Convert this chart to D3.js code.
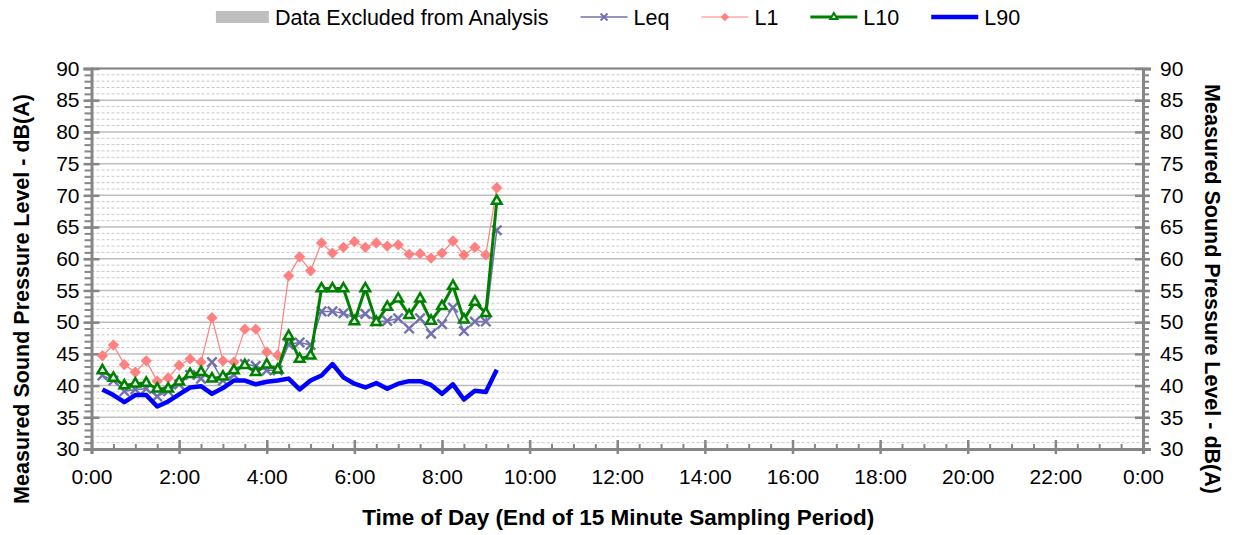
<!DOCTYPE html>
<html>
<head>
<meta charset="utf-8">
<script src="https://cdn.jsdelivr.net/npm/d3@7"></script>
<style>
  body { margin: 0; background: #fff; }
  svg text { font-family: "Liberation Sans", Arial, sans-serif; fill: #000; }
</style>
</head>
<body>
<svg id="chart" width="1237" height="535"></svg>
<script>
// ---- data (15 minute periods, end time) ----
const times = ['0:15','0:30','0:45','1:00','1:15','1:30','1:45','2:00','2:15','2:30','2:45','3:00',
  '3:15','3:30','3:45','4:00','4:15','4:30','4:45','5:00','5:15','5:30','5:45','6:00','6:15','6:30',
  '6:45','7:00','7:15','7:30','7:45','8:00','8:15','8:30','8:45','9:00','9:15'];

const leq = [41.6,40.8,39.1,39.4,39.5,38.3,39.1,40.2,41.7,41.1,43.7,40.8,41.7,43.4,43.1,42.4,42.4,46.5,46.8,46.4,
  51.7,51.7,51.4,50.7,51.3,50.1,50.2,50.6,49.0,50.6,48.2,49.7,52.3,48.6,50.1,50.1,64.5];
const l1 = [44.7,46.4,43.3,42.1,43.9,40.7,41.2,43.2,44.2,43.7,50.7,43.9,43.7,48.9,48.9,45.3,44.8,57.3,60.3,58.1,
  62.5,60.9,61.8,62.7,61.8,62.5,62.0,62.2,60.7,60.8,60.1,60.9,62.8,60.6,61.8,60.6,71.2];
const l10 = [42.4,41.2,40.0,40.3,40.4,39.5,39.5,40.6,41.8,42.1,41.1,41.4,42.4,43.2,42.1,43.3,42.5,47.8,44.2,44.7,
  55.3,55.3,55.3,50.1,55.3,50.0,52.4,53.7,51.1,53.7,50.2,52.5,55.7,50.4,53.2,51.4,69.1];
const l90 = [39.4,38.5,37.4,38.5,38.5,36.7,37.5,38.6,39.7,39.9,38.7,39.6,40.8,40.8,40.2,40.6,40.8,41.1,39.4,40.8,
  41.6,43.4,41.3,40.3,39.7,40.4,39.5,40.3,40.7,40.7,40.1,38.7,40.2,37.8,39.2,39.0,42.5];

const yTicks = d3.range(30, 91, 5);
const xTicks = d3.range(0, 25, 2);
const legendLabels = ['Data Excluded from Analysis', 'Leq', 'L1', 'L10', 'L90'];

// ---- layout ----
const svg = d3.select('#chart');
const mLeft = 91.5, mRight = 1143, mTop = 68.5, mBottom = 449;
const AXIS = '#868686';

const hours = times.map(t => { const [h, m] = t.split(':').map(Number); return h + m / 60; });

const x = d3.scaleLinear().domain([0, 24]).range([mLeft, mRight]);
const y = d3.scaleLinear().domain([30, 90]).range([mBottom, mTop]);

// gridlines (minor dashed every 1 dB, major every 5 dB)
const grid = svg.append('g');
grid.selectAll('.minor').data(d3.range(31, 90).filter(v => v % 5 !== 0)).enter().append('line')
  .attr('x1', mLeft).attr('x2', mRight)
  .attr('y1', d => y(d)).attr('y2', d => y(d))
  .attr('stroke', '#c8c8c8').attr('stroke-width', 1).attr('stroke-dasharray', '3,2');
grid.selectAll('.major').data(yTicks.filter(v => v > 30 && v < 90)).enter().append('line')
  .attr('x1', mLeft).attr('x2', mRight)
  .attr('y1', d => y(d)).attr('y2', d => y(d))
  .attr('stroke', '#bdbdbd').attr('stroke-width', 1.5);
grid.append('line').attr('x1', mLeft).attr('x2', mRight).attr('y1', y(90)).attr('y2', y(90))
  .attr('stroke', '#7f7f7f').attr('stroke-width', 2);

// axes
function styleAxis(g) {
  g.select('.domain').attr('stroke', AXIS).attr('stroke-width', 3);
  g.selectAll('.tick line').attr('stroke', AXIS).attr('stroke-width', 2.5);
  g.selectAll('.tick text').style('font-size', '21px');
}

// left minor ticks
svg.append('g').attr('transform', `translate(${mLeft},0)`)
  .call(d3.axisLeft(y).tickValues(d3.range(30, 91, 1)).tickSize(7).tickFormat(''))
  .call(g => { g.select('.domain').remove(); g.selectAll('.tick line').attr('stroke', AXIS).attr('stroke-width', 2); });
// left major ticks
svg.append('g').attr('transform', `translate(${mLeft},0)`)
  .call(d3.axisLeft(y).tickValues(yTicks).tickSizeOuter(0).tickSize(8).tickPadding(4))
  .call(styleAxis)
  .call(g => g.selectAll('.tick line').attr('x2', 8).attr('x1', -8));

// right minor ticks
svg.append('g').attr('transform', `translate(${mRight},0)`)
  .call(d3.axisRight(y).tickValues(d3.range(30, 91, 1)).tickSize(6).tickFormat(''))
  .call(g => { g.select('.domain').remove(); g.selectAll('.tick line').attr('stroke', AXIS).attr('stroke-width', 2); });
// right major ticks
svg.append('g').attr('transform', `translate(${mRight},0)`)
  .call(d3.axisRight(y).tickValues(yTicks).tickSizeOuter(0).tickSize(8).tickPadding(9))
  .call(styleAxis)
  .call(g => g.selectAll('.tick line').attr('x1', -8).attr('x2', 7));

// bottom minor ticks (30 min)
svg.append('g').attr('transform', `translate(0,${mBottom})`)
  .call(d3.axisBottom(x).tickValues(d3.range(0, 24.01, 0.5)).tickSize(-5).tickFormat(''))
  .call(g => { g.select('.domain').remove(); g.selectAll('.tick line').attr('stroke', AXIS).attr('stroke-width', 2); });
// bottom major ticks
svg.append('g').attr('transform', `translate(0,${mBottom})`)
  .call(d3.axisBottom(x).tickValues(xTicks).tickSizeOuter(0).tickSize(5).tickPadding(15)
    .tickFormat(d => `${d % 24}:00`))
  .call(styleAxis)
  .call(g => g.selectAll('.tick line').attr('y1', -9).attr('y2', 5));

// axis titles
svg.append('text')
  .attr('x', (mLeft + mRight) / 2 + 1).attr('y', 525)
  .attr('text-anchor', 'middle')
  .style('font-size', '22.5px').style('font-weight', 'bold')
  .text('Time of Day (End of 15 Minute Sampling Period)');
svg.append('text')
  .attr('transform', 'translate(29,299) rotate(-90)')
  .attr('text-anchor', 'middle')
  .style('font-size', '21.5px').style('font-weight', 'bold')
  .text('Measured Sound Pressure Level - dB(A)');
svg.append('text')
  .attr('transform', 'translate(1205,289) rotate(90)')
  .attr('text-anchor', 'middle')
  .style('font-size', '21.5px').style('font-weight', 'bold')
  .text('Measured Sound Pressure Level - dB(A)');

// ---- series ----
const series = [
  { name: 'Leq', values: leq, color: '#7171ad', width: 1.5, symbol: d3.symbolX, size: 60, fill: 'none', stroke: 2.4, rotate: 0 },
  { name: 'L1', values: l1, color: '#ff8080', width: 1.2, symbol: d3.symbolSquare, size: 64, fill: '#ff8080', stroke: 0, rotate: 45 },
  { name: 'L10', values: l10, color: '#008000', width: 3, symbol: d3.symbolTriangle, size: 40, fill: '#e6f2e6', stroke: 2.5, rotate: 0 },
  { name: 'L90', values: l90, color: '#0000ff', width: 4.5, symbol: null }
];

const line = d3.line().x((d, i) => x(hours[i])).y(d => y(d));
const plot = svg.append('g');

series.forEach(s => {
  plot.append('path')
    .attr('d', line(s.values))
    .attr('fill', 'none')
    .attr('stroke', s.color)
    .attr('stroke-width', s.width)
    .attr('stroke-linejoin', 'round');
  if (s.symbol) {
    plot.selectAll(null).data(s.values).enter().append('path')
      .attr('d', d3.symbol(s.symbol, s.size))
      .attr('transform', (d, i) => `translate(${x(hours[i])},${y(d)}) rotate(${s.rotate})`)
      .attr('fill', s.fill)
      .attr('stroke', s.color)
      .attr('stroke-width', s.stroke);
  }
});

// ---- legend ----
const legend = svg.append('g');
const GAP = 32;
let cx = 0;
legendLabels.forEach((label, i) => {
  const g = legend.append('g');
  if (i === 0) {
    g.append('rect').attr('x', cx).attr('y', 11).attr('width', 53).attr('height', 12).attr('fill', '#bfbfbf');
  } else {
    const s = series[i - 1];
    g.append('line').attr('x1', cx).attr('x2', cx + 47).attr('y1', 17).attr('y2', 17)
      .attr('stroke', s.color).attr('stroke-width', s.width);
    if (s.symbol) {
      g.append('path')
        .attr('d', d3.symbol(s.symbol, s.size * 0.55))
        .attr('transform', `translate(${cx + 23.5},17) rotate(${s.rotate})`)
        .attr('fill', s.fill).attr('stroke', s.color).attr('stroke-width', s.stroke * 0.8);
    }
  }
  const sw = i === 0 ? 53 : 47;
  const t = g.append('text').attr('x', cx + sw + 6).attr('y', 24.5)
    .style('font-size', '21.5px').text(label);
  cx += sw + 6 + t.node().getComputedTextLength() + GAP;
});
const total = cx - GAP;
legend.attr('transform', `translate(${618 - total / 2},0)`);
</script>
</body>
</html>
